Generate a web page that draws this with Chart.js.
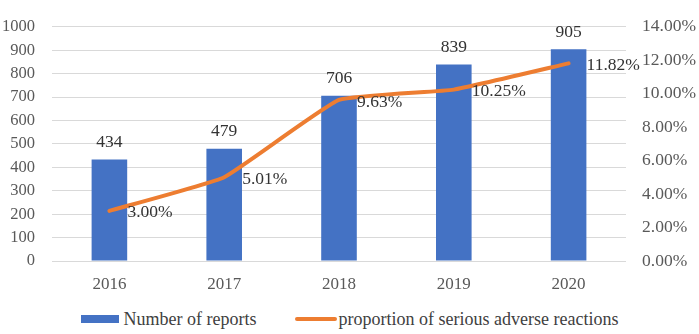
<!DOCTYPE html>
<html>
<head>
<meta charset="utf-8">
<script src="https://cdn.jsdelivr.net/npm/chart.js@4/dist/chart.umd.min.js"></script>
<style>
  html, body { margin: 0; padding: 0; background: #fff; }
  #wrap { position: relative; width: 699px; height: 300px; }
  #legend {
    width: 699px; height: 34px;
    display: flex; justify-content: center; align-items: center;
    font-family: 'Liberation Serif', 'Times New Roman', serif;
    font-size: 18px; color: #404040;
    position: relative; top: 2px;
  }
  .item { display: flex; align-items: center; margin: 0 19px; }
  .box { width: 38px; height: 8px; background: #4472C4; margin-right: 5px; }
  .ln { width: 42px; height: 4px; border-radius: 2px; background: #ED7D31; margin-right: 2px; }
</style>
</head>
<body>
<div id="wrap"><canvas id="myChart"></canvas></div>
<div id="legend">
  <div class="item"><span class="box"></span><span>Number of reports</span></div>
  <div class="item"><span class="ln"></span><span>proportion of serious adverse reactions</span></div>
</div>
<script>
const years = ['2016', '2017', '2018', '2019', '2020'];
const reports = [434, 479, 706, 839, 905];
const seriousRate = [3.00, 5.01, 9.63, 10.25, 11.82];

const serif = "'Liberation Serif', 'Times New Roman', serif";

// draws the value labels (Excel style)
const valueLabels = {
    id: 'valueLabels',
    afterDatasetsDraw(chart) {
        const ctx = chart.ctx;
        ctx.save();
        ctx.font = '17.5px ' + serif;
        ctx.fillStyle = '#333333';
        ctx.textBaseline = 'middle';
        chart.data.datasets.forEach((ds, i) => {
            const meta = chart.getDatasetMeta(i);
            meta.data.forEach((el, j) => {
                if (ds.type === 'bar') {
                    ctx.textAlign = 'center';
                    ctx.fillText(ds.data[j], el.x, el.y - 17);
                } else {
                    ctx.textAlign = 'left';
                    ctx.fillText(ds.data[j].toFixed(2) + '%', el.x + 18, el.y + 2);
                }
            });
        });
        ctx.restore();
    }
};

new Chart(document.getElementById('myChart'), {
    data: {
        labels: years,
        datasets: [{
            type: 'line',
            label: 'proportion of serious adverse reactions',
            data: seriousRate,
            yAxisID: 'y1',
            borderColor: '#ED7D31',
            backgroundColor: '#ED7D31',
            borderWidth: 4,
            tension: 0.12,
            pointRadius: 0,
            borderCapStyle: 'round',
            borderJoinStyle: 'round',
            order: 0
        }, {
            type: 'bar',
            label: 'Number of reports',
            data: reports,
            yAxisID: 'y',
            backgroundColor: '#4472C4',
            categoryPercentage: 1,
            barPercentage: 0.31,
            order: 1
        }]
    },
    options: {
        animation: false,
        responsive: true,
        maintainAspectRatio: false,
        layout: { padding: { top: 10, left: 0, right: 0, bottom: 0 } },
        plugins: {
            legend: { display: false },
            tooltip: { enabled: false }
        },
        scales: {
            x: {
                grid: { display: false },
                border: { display: false },
                ticks: { color: '#595959', font: { family: serif, size: 17 }, padding: 5 },
                afterFit: (s) => { s.height = 39; }
            },
            y: {
                position: 'left',
                min: 0, max: 1000,
                ticks: {
                    stepSize: 100, color: '#595959', font: { family: serif, size: 16.5 }, padding: 17,
                    callback: (v) => String(v)
                },
                grid: { color: '#d9d9d9', drawTicks: false },
                border: { display: false },
                afterFit: (s) => { s.width = 52; }
            },
            y1: {
                position: 'right',
                min: 0, max: 14,
                ticks: {
                    stepSize: 2, color: '#595959', font: { family: serif, size: 17.5 }, padding: 16,
                    callback: (v) => v.toFixed(2) + '%'
                },
                grid: { display: false, drawTicks: false },
                border: { display: false },
                afterFit: (s) => { s.width = 73; }
            }
        }
    },
    plugins: [valueLabels]
});
</script>
</body>
</html>
